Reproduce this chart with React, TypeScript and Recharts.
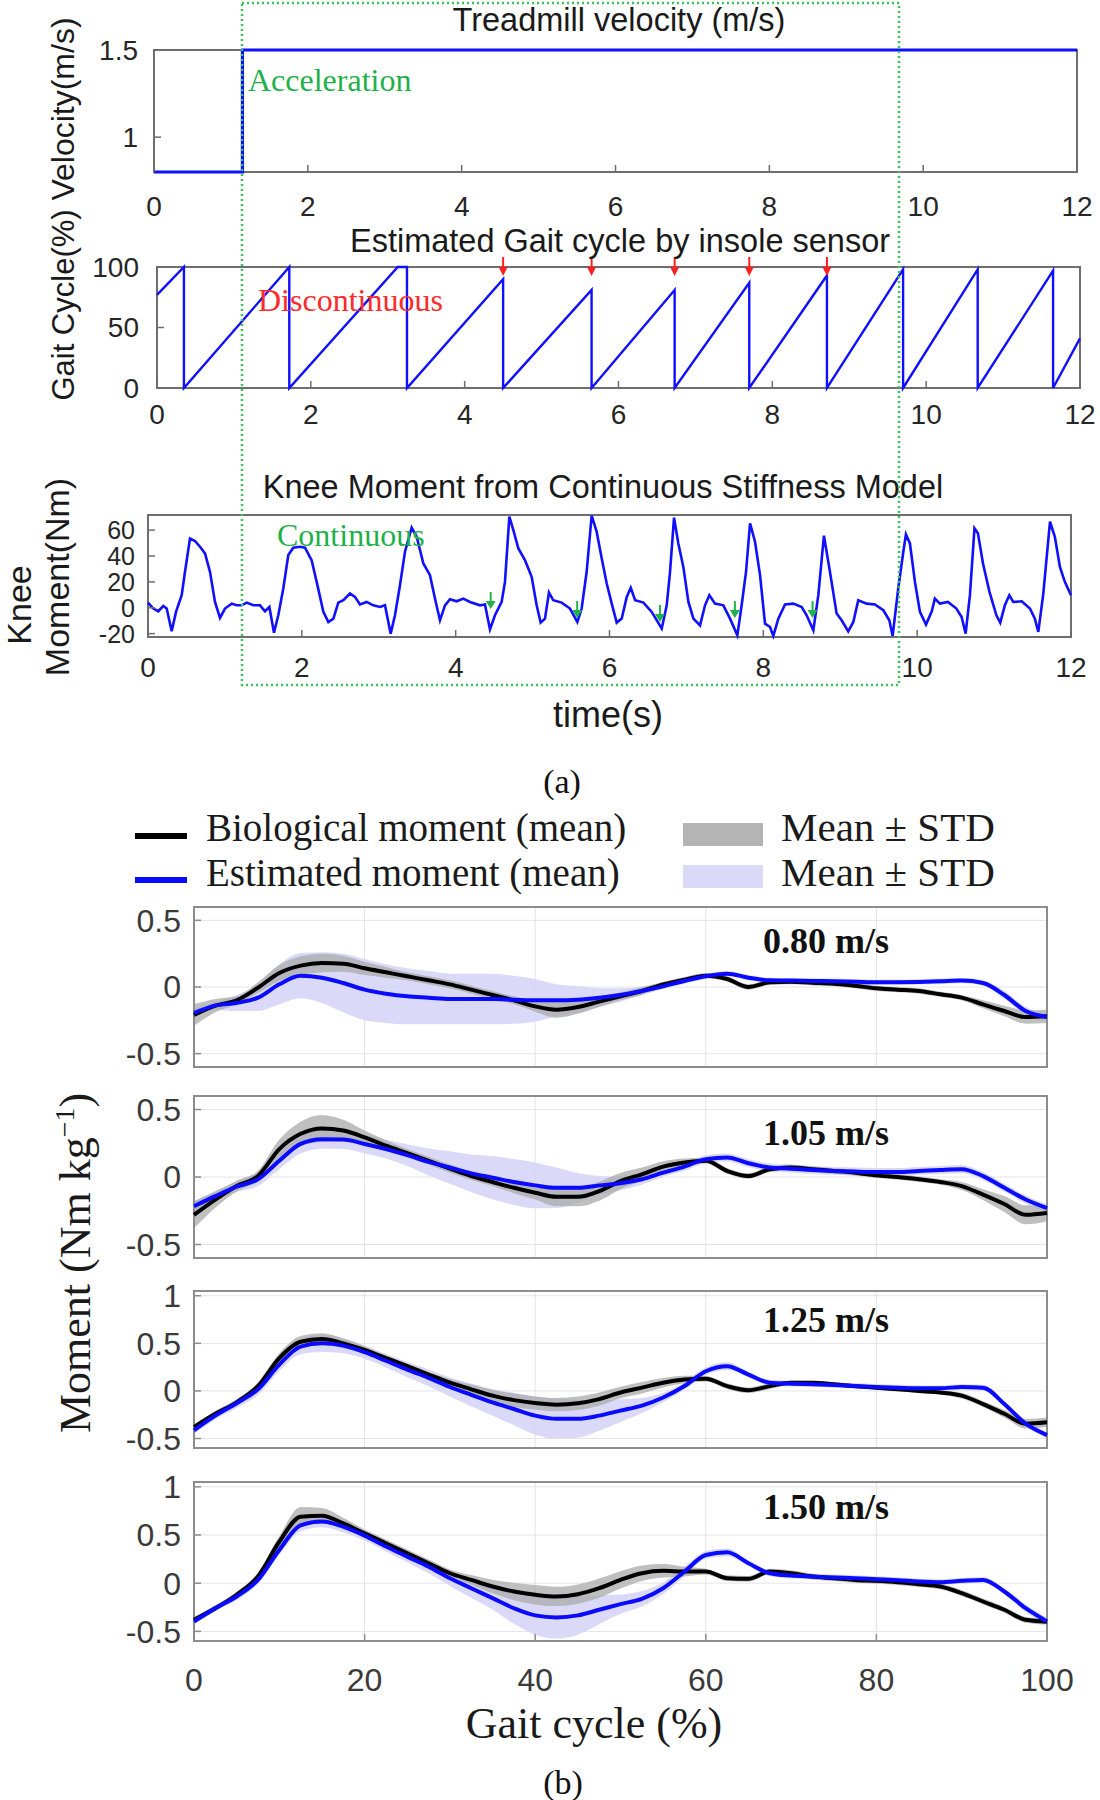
import React from "react"
import {
  Area,
  CartesianGrid,
  ComposedChart,
  Line,
  LineChart,
  ReferenceArea,
  ReferenceDot,
  XAxis,
  YAxis,
} from "recharts"

const SANS = "'Liberation Sans', Arial, Helvetica, sans-serif"
const SERIF = "'Liberation Serif', 'Times New Roman', Times, serif"

// ---------- panel (a) data ----------
const timeTicks = [0, 2, 4, 6, 8, 10, 12]

const velocityTimes = [0, 1.15, 1.15, 12]
const velocityValues = [0.8, 0.8, 1.5, 1.5]
const velocityTicks = [1, 1.5]

const gaitTimes = [
  0, 0.35, 0.35, 1.72, 1.72, 3.13, 3.25, 3.25, 4.5, 4.5, 5.65, 5.65, 6.73,
  6.73, 7.7, 7.7, 8.71, 8.71, 9.7, 9.7, 10.67, 10.67, 11.65, 11.65, 12,
]
const gaitValues = [
  77, 100, 0, 100, 0, 100, 100, 0, 90, 0, 81, 0, 81, 0, 87, 0, 93, 0, 98, 0,
  98, 0, 97, 0, 41,
]
const gaitTicks = [0, 50, 100]
const redArrowTimes = [4.5, 5.65, 6.73, 7.7, 8.71]

const kneeTimes = [
  0, 0.069, 0.134, 0.199, 0.243, 0.308, 0.364, 0.438, 0.481, 0.546, 0.611,
  0.676, 0.741, 0.806, 0.871, 0.936, 1.001, 1.088, 1.153, 1.218, 1.283, 1.37,
  1.456, 1.521, 1.578, 1.638, 1.694, 1.759, 1.824, 1.889, 1.976, 2.041, 2.127,
  2.193, 2.28, 2.345, 2.41, 2.474, 2.54, 2.626, 2.691, 2.756, 2.843, 2.929,
  3.016, 3.081, 3.155, 3.211, 3.276, 3.341, 3.428, 3.493, 3.58, 3.666, 3.731,
  3.796, 3.861, 3.926, 4.013, 4.1, 4.186, 4.316, 4.381, 4.446, 4.511, 4.598,
  4.641, 4.698, 4.75, 4.815, 4.901, 4.988, 5.053, 5.105, 5.161, 5.213, 5.269,
  5.378, 5.486, 5.582, 5.638, 5.703, 5.768, 5.833, 5.899, 5.964, 6.029, 6.094,
  6.159, 6.224, 6.276, 6.333, 6.441, 6.549, 6.679, 6.744, 6.787, 6.839, 6.895,
  6.96, 7.026, 7.091, 7.177, 7.242, 7.298, 7.372, 7.48, 7.567, 7.662, 7.718,
  7.775, 7.827, 7.892, 7.957, 8.022, 8.087, 8.13, 8.195, 8.282, 8.39, 8.499,
  8.563, 8.65, 8.715, 8.788, 8.866, 8.953, 9.018, 9.104, 9.17, 9.234, 9.343,
  9.45, 9.56, 9.638, 9.681, 9.754, 9.82, 9.854, 9.906, 9.971, 10.036, 10.115,
  10.19, 10.23, 10.296, 10.4, 10.51, 10.578, 10.63, 10.686, 10.745, 10.79,
  10.856, 10.94, 11.03, 11.08, 11.14, 11.198, 11.25, 11.36, 11.466, 11.53,
  11.575, 11.64, 11.727, 11.79, 11.856, 11.92, 12,
]
const kneeValues = [
  4, -0.6, -2.7, 1.4, -0.6, -18.2, -3.2, 9.7, 27.8, 53.6, 51.6, 47.2, 42, 27.8,
  4.5, -7.9, -0.6, 3.2, 1.9, 1.9, 4, 1.9, 1.9, -2.7, 0.6, -19.3, -5.8, 14.9,
  40.7, 46.4, 47.2, 46.4, 36.8, 20, -3.2, -11, -8.4, 4, 5.8, 11, 8.4, 2.5, 4.5,
  1.9, 0.6, 1.9, -20, -5.8, 17.4, 43.3, 61.9, 54.9, 34.2, 25.2, 7.1, -9.7, 1.9,
  6.6, 5, 7.1, 4.5, 1.9, 2.5, -16.7, -5.8, 4.5, 20, 70.4, 60, 45.9, 36.8, 23.9,
  1.9, -11.5, -8.4, 11.8, 5.8, 4, -0.6, -11, -0.6, 27.8, 71.2, 58.8, 38.1,
  18.7, 3.2, -11.5, -8.4, 8.4, 15.4, 5.8, 4, -3.2, -16.1, 1.9, 27.8, 69.6,
  49.7, 31.6, 4.5, -8.4, -13.6, 1.9, 9.7, 3.2, 1.9, -8.4, -21.3, 1.9, 27.8,
  65.2, 51, 25.2, -12.3, -14.9, -21.8, -8.4, 2.5, 3.2, 0.6, -5.8, -17.4, 9.7,
  55.7, 27.8, -4.5, -9.7, -18.2, -11, 5.8, 3.2, 2.5, -1.9, -9.7, -21.8, 14.9,
  43.3, 56.7, 49.7, 20, -3.2, -13, -2.7, 7.1, 3.2, 4.5, -0.6, -7.1, -20, 9.7,
  61.4, 57.5, 34.2, 12.3, -5.8, -11.5, 1.9, 9.7, 4.5, 5, -0.6, -8.4, -18.7, 11,
  66.5, 54.9, 31.6, 20, 9.7,
]
const kneeTicks = [-20, 0, 20, 40, 60]
const greenArrowTimes = [4.455, 5.58, 6.656, 7.63, 8.64]
const greenArrowValues = [-1, -8, -11, -8, -8]

// ---------- panel (b) data ----------
const gaitPct = [
  0, 2.5, 5, 7.5, 10, 12.5, 15, 17.5, 20, 22.5, 25, 27.5, 30, 32.5, 35, 37.5,
  40, 42.5, 45, 47.5, 50, 52.5, 55, 57.5, 60, 62.5, 65, 67.5, 70, 72.5, 75,
  77.5, 80, 82.5, 85, 87.5, 90, 92.5, 95, 97.5, 100,
]
const pctTicks = [0, 20, 40, 60, 80, 100]
const speedLabels = ["0.80 m/s", "1.05 m/s", "1.25 m/s", "1.50 m/s"]

const bio080 = [
  -0.21, -0.14, -0.1, -0.005, 0.105, 0.16, 0.18, 0.175, 0.14, 0.11, 0.08, 0.05,
  0.02, -0.02, -0.06, -0.1, -0.145, -0.17, -0.15, -0.11, -0.07, -0.03, 0.02,
  0.055, 0.085, 0.06, 0, 0.035, 0.04, 0.032, 0.025, 0.01, -0.01, -0.02, -0.03,
  -0.055, -0.08, -0.13, -0.18, -0.225, -0.22,
]
const bioStd080 = [
  0.08, 0.05, 0.03, 0.04, 0.06, 0.07, 0.07, 0.06, 0.05, 0.04, 0.03, 0.03, 0.03,
  0.03, 0.03, 0.03, 0.04, 0.06, 0.05, 0.04, 0.03, 0.03, 0.02, 0.02, 0.02, 0.02,
  0.02, 0.02, 0.02, 0.02, 0.02, 0.02, 0.02, 0.02, 0.02, 0.02, 0.02, 0.03, 0.04,
  0.05, 0.05,
]
const est080 = [
  -0.195, -0.14, -0.12, -0.08, 0.02, 0.085, 0.07, 0.03, -0.02, -0.05, -0.07,
  -0.08, -0.09, -0.09, -0.09, -0.095, -0.1, -0.1, -0.095, -0.08, -0.06, -0.03,
  0.005, 0.045, 0.08, 0.1, 0.07, 0.05, 0.048, 0.045, 0.043, 0.04, 0.035, 0.036,
  0.038, 0.043, 0.048, 0.03, -0.06, -0.18, -0.225,
]
const estStd080 = [
  0.03, 0.03, 0.06, 0.1, 0.15, 0.17, 0.19, 0.22, 0.23, 0.22, 0.21, 0.2, 0.19,
  0.19, 0.19, 0.18, 0.16, 0.12, 0.1, 0.07, 0.05, 0.03, 0.02, 0.02, 0.02, 0.02,
  0.02, 0.02, 0.02, 0.02, 0.02, 0.02, 0.02, 0.02, 0.02, 0.02, 0.02, 0.02, 0.03,
  0.03, 0.03,
]

const bio105 = [
  -0.28, -0.167, -0.067, 0.007, 0.207, 0.32, 0.36, 0.344, 0.294, 0.232, 0.177,
  0.12, 0.062, 0.007, -0.037, -0.08, -0.117, -0.147, -0.147, -0.105, -0.03,
  0.02, 0.077, 0.107, 0.12, 0.045, 0.007, 0.057, 0.07, 0.057, 0.045, 0.032,
  0.012, 0, -0.017, -0.037, -0.067, -0.13, -0.2, -0.28, -0.267,
]
const bioStd105 = [
  0.1, 0.06, 0.04, 0.04, 0.07, 0.09, 0.1, 0.08, 0.05, 0.04, 0.03, 0.03, 0.03,
  0.03, 0.03, 0.04, 0.05, 0.07, 0.07, 0.07, 0.06, 0.05, 0.04, 0.03, 0.02, 0.02,
  0.02, 0.02, 0.02, 0.02, 0.02, 0.02, 0.02, 0.02, 0.02, 0.02, 0.03, 0.04, 0.06,
  0.07, 0.06,
]
const est105 = [
  -0.217, -0.142, -0.072, -0.017, 0.12, 0.245, 0.28, 0.277, 0.245, 0.207,
  0.162, 0.112, 0.07, 0.027, -0.005, -0.037, -0.062, -0.08, -0.08, -0.062,
  -0.047, -0.017, 0.032, 0.077, 0.132, 0.145, 0.102, 0.07, 0.062, 0.052, 0.045,
  0.04, 0.037, 0.037, 0.045, 0.052, 0.057, 0.007, -0.08, -0.167, -0.23,
]
const estStd105 = [
  0.04, 0.04, 0.04, 0.05, 0.06, 0.07, 0.07, 0.07, 0.07, 0.07, 0.08, 0.1, 0.12,
  0.14, 0.16, 0.17, 0.17, 0.15, 0.11, 0.07, 0.05, 0.04, 0.03, 0.03, 0.03, 0.03,
  0.03, 0.03, 0.03, 0.03, 0.03, 0.03, 0.03, 0.03, 0.03, 0.03, 0.03, 0.03, 0.03,
  0.03, 0.03,
]

const bio125 = [
  -0.38, -0.24, -0.12, 0.05, 0.345, 0.517, 0.545, 0.5, 0.43, 0.345, 0.26,
  0.172, 0.086, 0.017, -0.05, -0.097, -0.128, -0.145, -0.13, -0.086, -0.017,
  0.034, 0.086, 0.12, 0.128, 0.05, 0.007, 0.05, 0.086, 0.086, 0.07, 0.05, 0.034,
  0.017, 0, -0.017, -0.05, -0.138, -0.24, -0.345, -0.33,
]
const bioStd125 = [
  0.03, 0.03, 0.03, 0.04, 0.05, 0.06, 0.06, 0.05, 0.04, 0.03, 0.03, 0.03, 0.04,
  0.05, 0.06, 0.07, 0.07, 0.07, 0.07, 0.07, 0.06, 0.06, 0.05, 0.04, 0.03, 0.03,
  0.03, 0.03, 0.02, 0.02, 0.02, 0.02, 0.02, 0.02, 0.02, 0.02, 0.03, 0.03, 0.04,
  0.05, 0.05,
]
const est125 = [
  -0.414, -0.26, -0.13, 0.017, 0.276, 0.466, 0.5, 0.476, 0.407, 0.317, 0.224,
  0.138, 0.041, -0.041, -0.12, -0.19, -0.26, -0.293, -0.293, -0.26, -0.207,
  -0.155, -0.069, 0.052, 0.207, 0.26, 0.172, 0.086, 0.076, 0.07, 0.062, 0.052,
  0.041, 0.034, 0.028, 0.028, 0.041, 0.034, -0.138, -0.345, -0.465,
]
const estStd125 = [
  0.04, 0.04, 0.05, 0.06, 0.07, 0.08, 0.09, 0.08, 0.07, 0.07, 0.08, 0.09, 0.1,
  0.12, 0.14, 0.17, 0.2, 0.21, 0.2, 0.16, 0.12, 0.08, 0.05, 0.04, 0.04, 0.04,
  0.03, 0.03, 0.03, 0.03, 0.03, 0.03, 0.03, 0.03, 0.03, 0.03, 0.03, 0.03, 0.03,
  0.03, 0.03,
]

const bio150 = [
  -0.38, -0.26, -0.12, 0.07, 0.43, 0.69, 0.7, 0.62, 0.517, 0.414, 0.31, 0.207,
  0.103, 0.034, -0.034, -0.086, -0.12, -0.138, -0.114, -0.052, 0.034, 0.103,
  0.128, 0.12, 0.12, 0.052, 0.045, 0.12, 0.103, 0.069, 0.052, 0.034, 0.024,
  0.01, -0.01, -0.034, -0.103, -0.19, -0.276, -0.38, -0.4,
]
const bioStd150 = [
  0.03, 0.03, 0.03, 0.04, 0.06, 0.1, 0.08, 0.06, 0.04, 0.04, 0.04, 0.04, 0.04,
  0.05, 0.07, 0.09, 0.1, 0.1, 0.1, 0.1, 0.09, 0.08, 0.07, 0.05, 0.03, 0.03,
  0.03, 0.03, 0.03, 0.03, 0.03, 0.03, 0.03, 0.03, 0.03, 0.03, 0.03, 0.03, 0.03,
  0.03, 0.03,
]
const est150 = [
  -0.397, -0.26, -0.138, 0.034, 0.345, 0.6, 0.64, 0.586, 0.493, 0.38, 0.276,
  0.172, 0.052, -0.052, -0.155, -0.26, -0.334, -0.355, -0.334, -0.276, -0.217,
  -0.162, -0.052, 0.12, 0.293, 0.32, 0.207, 0.103, 0.079, 0.069, 0.059, 0.052,
  0.041, 0.031, 0.017, 0.01, 0.024, 0.034, -0.086, -0.26, -0.397,
]
const estStd150 = [
  0.03, 0.03, 0.04, 0.04, 0.05, 0.06, 0.06, 0.06, 0.05, 0.05, 0.06, 0.07, 0.08,
  0.1, 0.12, 0.16, 0.2, 0.22, 0.2, 0.15, 0.1, 0.08, 0.06, 0.05, 0.04, 0.04,
  0.03, 0.03, 0.03, 0.03, 0.03, 0.03, 0.03, 0.03, 0.03, 0.03, 0.03, 0.03, 0.03,
  0.04, 0.04,
]

// ---------- layout ----------
interface Box {
  left: number
  top: number
  right: number
  bottom: number
}

const PAD_TOP = 20
const AXIS_H = 60
const PAD_BOTTOM = 24
// inward MATLAB-style tick marks
const TICK_IN = -7

function frame(b: Box, withAxis: boolean) {
  const plotH = b.bottom - b.top
  return {
    top: b.top - PAD_TOP,
    width: 1100,
    height: PAD_TOP + plotH + (withAxis ? AXIS_H : PAD_BOTTOM),
    margin: {
      top: PAD_TOP,
      right: 1100 - b.right,
      bottom: withAxis ? 0 : PAD_BOTTOM,
      left: 0,
    },
  }
}

const velocityBox: Box = { left: 154, top: 50, right: 1077, bottom: 172 }
const gaitBox: Box = { left: 157, top: 267, right: 1080, bottom: 388 }
const kneeBox: Box = { left: 148, top: 515, right: 1071, bottom: 637 }
const speedBoxes: Box[] = [
  { left: 194, top: 907, right: 1047, bottom: 1067 },
  { left: 194, top: 1096, right: 1047, bottom: 1258 },
  { left: 194, top: 1291, right: 1047, bottom: 1448 },
  { left: 194, top: 1482, right: 1047, bottom: 1641 },
]

const tickA = { fontSize: 28, fill: "#262626", fontFamily: SANS }
const tickKnee = { fontSize: 25, fill: "#262626", fontFamily: SANS }
const tickB = { fontSize: 32, fill: "#3a3a3a", fontFamily: SANS }
const FRAME_A = "#6e6e6e"
const FRAME_B = "#8c8c8c"

function RedArrow(props: any) {
  const { cx, cy } = props
  return (
    <g>
      <line x1={cx} y1={cy - 10} x2={cx} y2={cy + 2} stroke="#ff1f1f" strokeWidth={2} />
      <path d={`M${cx - 4.5},${cy} L${cx + 4.5},${cy} L${cx},${cy + 9} Z`} fill="#ff1f1f" />
    </g>
  )
}

function GreenArrow(props: any) {
  const { cx, cy } = props
  return (
    <g>
      <line x1={cx} y1={cy - 17} x2={cx} y2={cy - 6} stroke="#22b04b" strokeWidth={2} />
      <path d={`M${cx - 5},${cy - 8} L${cx + 5},${cy - 8} L${cx},${cy} Z`} fill="#22b04b" />
    </g>
  )
}

function TimeChart({
  box,
  rows,
  domain,
  yTicks,
  yTick = tickA,
  lineWidth = 2.4,
  xTickMargin,
  yTickMargin,
  children,
}: {
  box: Box
  rows: { t: number; v: number }[]
  domain: [number, number]
  yTicks: number[]
  yTick?: typeof tickA
  lineWidth?: number
  xTickMargin: number
  yTickMargin: number
  children?: React.ReactNode
}) {
  const f = frame(box, true)
  return (
    <div style={{ position: "absolute", left: 0, top: f.top }}>
      <LineChart width={f.width} height={f.height} data={rows} margin={f.margin}>
        <XAxis
          dataKey="t"
          type="number"
          domain={[0, 12]}
          ticks={timeTicks}
          height={AXIS_H}
          tick={tickA}
          tickLine={{ stroke: FRAME_A, strokeWidth: 1.5 }}
          tickSize={TICK_IN}
          axisLine={false}
          tickMargin={xTickMargin}
          interval={0}
        />
        <YAxis
          type="number"
          domain={domain}
          ticks={yTicks}
          width={box.left}
          tick={yTick}
          tickLine={{ stroke: FRAME_A, strokeWidth: 1.5 }}
          tickSize={TICK_IN}
          axisLine={false}
          tickMargin={yTickMargin}
          interval={0}
        />
        <ReferenceArea
          x1={0}
          x2={12}
          y1={domain[0]}
          y2={domain[1]}
          fill="none"
          stroke={FRAME_A}
          strokeWidth={2}
        />
        <Line
          dataKey="v"
          type="linear"
          stroke="#1010ff"
          strokeWidth={lineWidth}
          dot={false}
          isAnimationActive={false}
        />
        {children}
      </LineChart>
    </div>
  )
}

function speedRows(bio: number[], bioStd: number[], est: number[], estStd: number[]) {
  return gaitPct.map((p, i) => ({
    pct: p,
    bio: bio[i],
    est: est[i],
    bioBand: [bio[i] - bioStd[i], bio[i] + bioStd[i]],
    estBand: [est[i] - estStd[i], est[i] + estStd[i]],
  }))
}

const speedSeries = [
  { rows: speedRows(bio080, bioStd080, est080, estStd080), domain: [-0.6, 0.6], ticks: [-0.5, 0, 0.5] },
  { rows: speedRows(bio105, bioStd105, est105, estStd105), domain: [-0.6, 0.6], ticks: [-0.5, 0, 0.5] },
  { rows: speedRows(bio125, bioStd125, est125, estStd125), domain: [-0.6, 1.05], ticks: [-0.5, 0, 0.5, 1] },
  { rows: speedRows(bio150, bioStd150, est150, estStd150), domain: [-0.6, 1.05], ticks: [-0.5, 0, 0.5, 1] },
]

function SpeedChart({ index }: { index: number }) {
  const box = speedBoxes[index]
  const s = speedSeries[index]
  const last = index === speedSeries.length - 1
  const f = frame(box, last)
  const domain = s.domain as [number, number]
  return (
    <div style={{ position: "absolute", left: 0, top: f.top }}>
      <ComposedChart width={f.width} height={f.height} data={s.rows} margin={f.margin}>
        <CartesianGrid stroke="#e4e4e4" strokeWidth={1} />
        <XAxis
          dataKey="pct"
          type="number"
          domain={[0, 100]}
          ticks={pctTicks}
          height={AXIS_H}
          hide={!last}
          tick={tickB}
          tickLine={{ stroke: FRAME_B, strokeWidth: 1.5 }}
          tickSize={TICK_IN}
          axisLine={false}
          tickMargin={34}
          interval={0}
        />
        <YAxis
          type="number"
          domain={domain}
          ticks={s.ticks}
          width={box.left}
          tick={tickB}
          tickLine={{ stroke: FRAME_B, strokeWidth: 1.5 }}
          tickSize={TICK_IN}
          axisLine={false}
          tickMargin={20}
          allowDataOverflow
          interval={0}
        />
        <Area
          dataKey="estBand"
          type="monotone"
          stroke="none"
          fill="#d6d6f7"
          fillOpacity={0.9}
          isAnimationActive={false}
        />
        <Area
          dataKey="bioBand"
          type="monotone"
          stroke="none"
          fill="#a9a9a9"
          fillOpacity={0.75}
          isAnimationActive={false}
        />
        <ReferenceArea
          x1={0}
          x2={100}
          y1={domain[0]}
          y2={domain[1]}
          fill="none"
          stroke={FRAME_B}
          strokeWidth={2}
        />
        <Line
          dataKey="bio"
          type="monotone"
          stroke="#000000"
          strokeWidth={4}
          dot={false}
          isAnimationActive={false}
        />
        <Line
          dataKey="est"
          type="monotone"
          stroke="#0a0aff"
          strokeWidth={4}
          dot={false}
          isAnimationActive={false}
        />
      </ComposedChart>
    </div>
  )
}

function Overlay() {
  const speedBaselines = [953, 1145, 1332, 1519]
  return (
    <svg
      width={1100}
      height={1800}
      style={{ position: "absolute", left: 0, top: 0, pointerEvents: "none" }}
    >
      {/* panel (a) titles */}
      <g fontFamily={SANS} fill="#1a1a1a" fontSize={32.5}>
        <text x={619} y={31} textAnchor="middle">Treadmill velocity (m/s)</text>
        <text x={620} y={252} textAnchor="middle">Estimated Gait cycle by insole sensor</text>
        <text x={603} y={498} textAnchor="middle">Knee Moment from Continuous Stiffness Model</text>
      </g>
      <g fontFamily={SANS} fill="#1a1a1a" fontSize={32}>
        <text transform="translate(74,109) rotate(-90)" textAnchor="middle">Velocity(m/s)</text>
        <text transform="translate(74,305) rotate(-90)" fontSize={31} textAnchor="middle">
          Gait Cycle(%)
        </text>
        <text transform="translate(31,605) rotate(-90)" textAnchor="middle" fontSize={34}>Knee</text>
        <text transform="translate(69,577) rotate(-90)" textAnchor="middle" fontSize={34}>
          Moment(Nm)
        </text>
        <text x={608} y={727} textAnchor="middle" fontSize={36}>time(s)</text>
      </g>
      <g fontFamily={SERIF} fontSize={32}>
        <text x={248} y={91} fill="#1fb04a">Acceleration</text>
        <text x={258} y={311} fill="#ff2a2a">Discontinuous</text>
        <text x={277} y={546} fill="#1fb04a">Continuous</text>
      </g>
      <rect
        x={242}
        y={3}
        width={657}
        height={682}
        fill="none"
        stroke="#3cc25a"
        strokeWidth={2.5}
        strokeDasharray="2 3"
      />
      <text x={562} y={793} textAnchor="middle" fontFamily={SERIF} fontSize={34} fill="#111">
        (a)
      </text>

      {/* panel (b) legend */}
      <line x1={135} x2={187} y1={836} y2={836} stroke="#000" strokeWidth={6} />
      <line x1={135} x2={187} y1={880} y2={880} stroke="#0a0aff" strokeWidth={6} />
      <rect x={683} y={823} width={80} height={23} fill="#b4b4b4" />
      <rect x={683} y={865} width={80} height={23} fill="#dadaf8" />
      <g fontFamily={SERIF} fontSize={39} fill="#1a1a1a">
        <text x={206} y={841}>Biological moment (mean)</text>
        <text x={206} y={886}>Estimated moment (mean)</text>
        <text x={781} y={841} fontSize={41}>Mean ± STD</text>
        <text x={781} y={886} fontSize={41}>Mean ± STD</text>
      </g>
      <g fontFamily={SERIF} fontSize={36} fontWeight="bold" fill="#111">
        {speedLabels.map((s, i) => (
          <text key={s} x={826} y={speedBaselines[i]} textAnchor="middle">
            {s}
          </text>
        ))}
      </g>
      <text
        transform="translate(90,1263) rotate(-90)"
        textAnchor="middle"
        fontFamily={SERIF}
        fontSize={44}
        fill="#1a1a1a"
      >
        Moment (Nm kg
        <tspan fontSize={28} dy={-16}>−1</tspan>
        <tspan dy={16}>)</tspan>
      </text>
      <text x={594} y={1738} textAnchor="middle" fontFamily={SERIF} fontSize={44} fill="#1a1a1a">
        Gait cycle (%)
      </text>
      <text x={563} y={1794} textAnchor="middle" fontFamily={SERIF} fontSize={34} fill="#111">
        (b)
      </text>
    </svg>
  )
}

export default function App() {
  const velocityRows = velocityTimes.map((t, i) => ({ t, v: velocityValues[i] }))
  const gaitRows = gaitTimes.map((t, i) => ({ t, v: gaitValues[i] }))
  const kneeRows = kneeTimes.map((t, i) => ({ t, v: kneeValues[i] }))

  return (
    <div
      style={{
        position: "absolute",
        left: 0,
        top: 0,
        width: 1100,
        height: 1800,
        background: "#ffffff",
        overflow: "hidden",
      }}
    >
      <TimeChart
        box={velocityBox}
        rows={velocityRows}
        domain={[0.8, 1.5]}
        yTicks={velocityTicks}
        lineWidth={3.2}
        xTickMargin={31}
        yTickMargin={23}
      />
      <TimeChart
        box={gaitBox}
        rows={gaitRows}
        domain={[0, 100]}
        yTicks={gaitTicks}
        xTickMargin={23}
        yTickMargin={25}
      >
        {redArrowTimes.map((t) => (
          <ReferenceDot key={t} x={t} y={100} r={0} ifOverflow="visible" shape={RedArrow} />
        ))}
      </TimeChart>
      <TimeChart
        box={kneeBox}
        rows={kneeRows}
        domain={[-22.6, 71.7]}
        yTicks={kneeTicks}
        yTick={tickKnee}
        lineWidth={2.6}
        xTickMargin={27}
        yTickMargin={20}
      >
        {greenArrowTimes.map((t, i) => (
          <ReferenceDot
            key={t}
            x={t}
            y={greenArrowValues[i]}
            r={0}
            ifOverflow="visible"
            shape={GreenArrow}
          />
        ))}
      </TimeChart>
      {speedSeries.map((_, i) => (
        <SpeedChart key={i} index={i} />
      ))}
      <Overlay />
    </div>
  )
}
